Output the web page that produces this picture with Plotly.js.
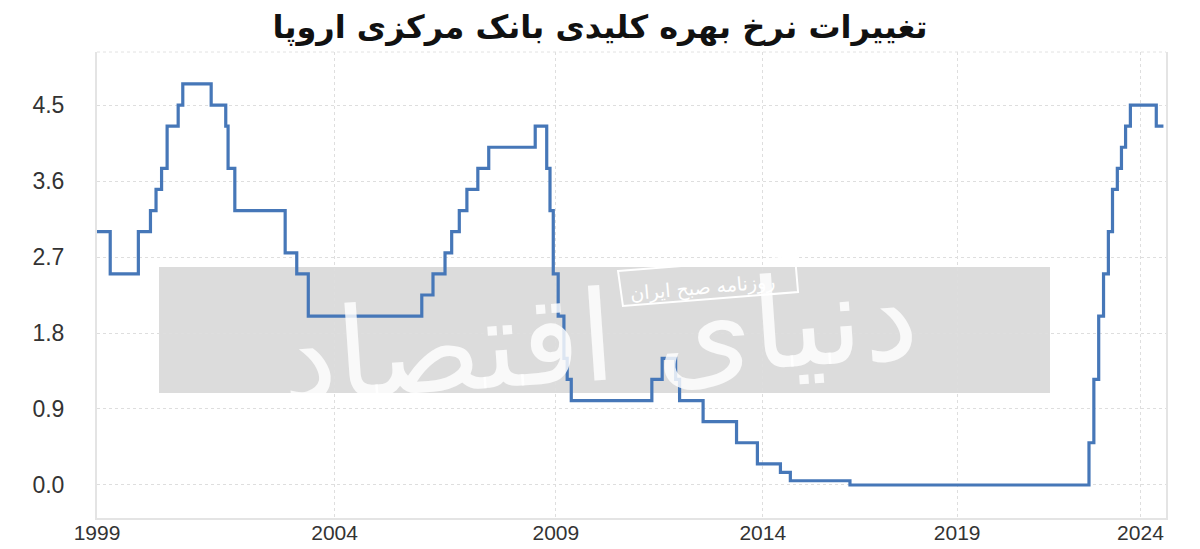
<!DOCTYPE html>
<html>
<head>
<meta charset="utf-8">
<script src="https://cdn.plot.ly/plotly-3.0.1.min.js"></script>
<style>
  html, body { margin: 0; padding: 0; background: #fff; }
  #chart { width: 1200px; height: 549px; }
</style>
</head>
<body>
<div id="chart"></div>
<script>
// ECB main refinancing rate: dates of decisions and rate (%) in force from that date
const changeDates = [
  '1999-01-01','1999-04-09','1999-11-05','2000-02-04','2000-03-17','2000-04-28',
  '2000-06-09','2000-09-01','2000-10-06','2001-05-11','2001-08-31','2001-09-18',
  '2001-11-09','2002-12-06','2003-03-07','2003-06-06','2005-12-06','2006-03-08',
  '2006-06-15','2006-08-09','2006-10-11','2006-12-13','2007-03-14','2007-06-13',
  '2008-07-09','2008-10-15','2008-11-12','2008-12-10','2009-01-21','2009-03-11',
  '2009-04-08','2009-05-13','2011-04-13','2011-07-13','2011-11-09','2011-12-14',
  '2012-07-11','2013-05-08','2013-11-13','2014-06-11','2014-09-10','2016-03-16',
  '2022-07-27','2022-09-14','2022-11-02','2022-12-21','2023-02-08','2023-03-22',
  '2023-05-10','2023-06-21','2023-08-02','2023-09-20','2024-06-12','2024-08-25'
];
const rates = [
  3.00, 2.50, 3.00, 3.25, 3.50, 3.75,
  4.25, 4.50, 4.75, 4.50, 4.25, 3.75,
  3.25, 2.75, 2.50, 2.00, 2.25, 2.50,
  2.75, 3.00, 3.25, 3.50, 3.75, 4.00,
  4.25, 3.75, 3.25, 2.50, 2.00, 1.50,
  1.25, 1.00, 1.25, 1.50, 1.25, 1.00,
  0.75, 0.50, 0.25, 0.15, 0.05, 0.00,
  0.50, 1.25, 2.00, 2.50, 3.00, 3.50,
  3.75, 4.00, 4.25, 4.50, 4.25, 4.25
];
const tickYears = [1999, 2004, 2009, 2014, 2019, 2024];
const yTicks = [0.0, 0.9, 1.8, 2.7, 3.6, 4.5];
const titleText = 'تغییرات نرخ بهره کلیدی بانک مرکزی اروپا';
const watermarkSmall = 'روزنامه صبح ایران';
const watermarkBig = 'دنیای اقتصاد';

// The reference's time axis is progressively compressed toward recent years;
// reproduce it with a log axis on (year - offset).
const AXIS_OFFSET = 1934;
function decYear(s) {
  const d = new Date(s + 'T00:00:00Z');
  const y = d.getUTCFullYear();
  const a = Date.UTC(y, 0, 1), b = Date.UTC(y + 1, 0, 1);
  return y + (d.getTime() - a) / (b - a);
}
const xs = changeDates.map(d => decYear(d) - AXIS_OFFSET);

const trace = {
  type: 'scatter',
  mode: 'lines',
  x: xs,
  y: rates,
  line: { shape: 'hv', color: '#4677b8', width: 3.2 },
  text: changeDates,
  hovertemplate: '%{text}: %{y:.2f}<extra></extra>'
};

const layout = {
  width: 1200,
  height: 549,
  margin: { l: 97, r: 34, t: 52, b: 31 },
  paper_bgcolor: '#ffffff',
  plot_bgcolor: '#ffffff',
  showlegend: false,
  font: { family: 'Liberation Sans, Arial, sans-serif', color: '#333333', size: 21 },
  title: {
    text: '<b>' + titleText + '</b>',
    x: 0.5, xanchor: 'center', y: 0.952, yanchor: 'middle',
    font: { family: 'DejaVu Sans, Noto Sans, sans-serif', size: 32, color: '#111111' }
  },
  xaxis: {
    type: 'log',
    range: [Math.log10(1999 - AXIS_OFFSET), Math.log10(2024.72 - AXIS_OFFSET)],
    tickmode: 'array',
    tickvals: tickYears.map(y => y - AXIS_OFFSET),
    ticktext: tickYears.map(String),
    showgrid: true,
    gridcolor: '#dedede',
    griddash: 'dot',
    gridwidth: 1,
    showline: true,
    linecolor: '#e4e4e4',
    linewidth: 2,
    ticks: '',
    ticklabelstandoff: -5,
    zeroline: false,
    tickfont: { size: 21, color: '#333333' }
  },
  yaxis: {
    range: [-0.391, 5.128],
    tickmode: 'array',
    tickvals: yTicks,
    tickformat: '.1f',
    showgrid: true,
    gridcolor: '#dedede',
    griddash: 'dot',
    gridwidth: 1,
    showline: true,
    mirror: true,
    linecolor: '#e4e4e4',
    linewidth: 2,
    ticks: '',
    ticklabelstandoff: 26,
    zeroline: false,
    tickfont: { size: 23, color: '#333333' }
  },
  shapes: [
    { type: 'rect', xref: 'paper', yref: 'paper', x0: 0.058, x1: 0.8915, y0: 0.268, y1: 0.5386,
      fillcolor: '#dcdcdc', line: { width: 0 }, layer: 'below' },
    { type: 'line', xref: 'paper', yref: 'paper', x0: 0, x1: 1, y0: 1, y1: 1,
      line: { color: '#e2e2e2', width: 1, dash: 'dot' } },
    { type: 'path', xref: 'paper', yref: 'paper',
      path: 'M 0.4874 0.5300 L 0.6530 0.5601 L 0.6558 0.4850 L 0.4920 0.4549 Z',
      line: { color: '#ffffff', width: 2 }, fillcolor: 'rgba(0,0,0,0)' }
  ],
  annotations: [
    { xref: 'paper', yref: 'paper', x: 0.47, y: 0.39, text: watermarkBig, showarrow: false,
      textangle: -4,
      font: { family: 'DejaVu Sans, sans-serif', size: 125, color: 'rgba(255,255,255,0.82)' } },
    { xref: 'paper', yref: 'paper', x: 0.566, y: 0.494, text: watermarkSmall, showarrow: false,
      textangle: -5,
      font: { family: 'DejaVu Sans, sans-serif', size: 19, color: '#ffffff' } }
  ]
};

Plotly.newPlot('chart', [trace], layout, { displayModeBar: false });
</script>
</body>
</html>
